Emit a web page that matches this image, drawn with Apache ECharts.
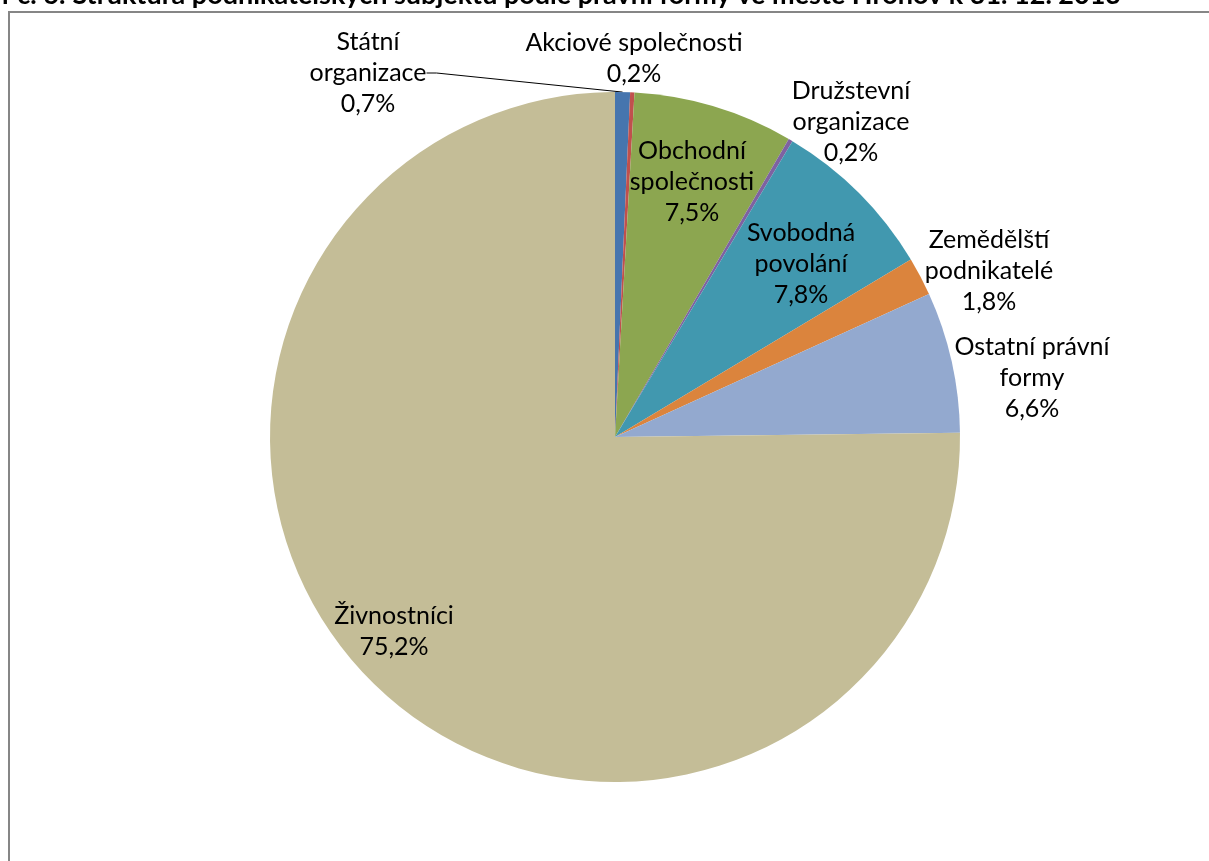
<!DOCTYPE html>
<html>
<head>
<meta charset="utf-8">
<style>
html,body{margin:0;padding:0;background:#fff;}
#chart{width:1209px;height:861px;}
</style>
<script src="https://cdn.jsdelivr.net/npm/echarts@6/dist/echarts.min.js"></script>
</head>
<body>
<div id="chart"></div>
<script>
// Data (clockwise from 12 o'clock)
var categories = ['Státní\norganizace', 'Akciové společnosti', 'Obchodní\nspolečnosti', 'Družstevní\norganizace', 'Svobodná\npovolání', 'Zemědělští\npodnikatelé', 'Ostatní právní\nformy', 'Živnostníci'];
var shares = [0.7, 0.2, 7.5, 0.2, 7.8, 1.8, 6.6, 75.2];
var colors = ['#4675AE', '#C0504D', '#8CA650', '#7E62A1', '#4198AF', '#DB843D', '#93A9CF', '#C4BD97'];
var titleText = 'Graf č. 6: Struktura podnikatelských subjektů podle právní formy ve městě Hronov k 31. 12. 2013';

// Label anchor layout (centre of each label block, px)
var labelAnchors = [[368, 73], [634, 58], [692, 182], [851, 122], [801, 264], [989, 271], [1032, 378], [394, 631]];

var FONT = 'Lato, "Open Sans", sans-serif';

var chart = echarts.init(document.getElementById('chart'), null, {renderer: 'canvas'});

var data = shares.map(function (v, i) {
  return {
    name: categories[i],
    value: v,
    itemStyle: {color: colors[i]},
    labelLine: {show: i === 0}
  };
});

var option = {
  animation: false,
  backgroundColor: '#ffffff',
  graphic: [
    {
      type: 'rect',
      shape: {x: 9, y: 12, width: 1400, height: 1000},
      style: {fill: 'none', stroke: '#868686', lineWidth: 2},
      silent: true
    },
    {
      type: 'text',
      x: 1121,
      y: 9,
      style: {
        text: titleText,
        fill: '#000',
        font: 'bold 27px ' + FONT,
        textAlign: 'right',
        textVerticalAlign: 'bottom'
      },
      silent: true
    }
  ],
  series: [{
    type: 'pie',
    center: [615, 437],
    radius: 345,
    startAngle: 90,
    clockwise: true,
    avoidLabelOverlap: false,
    itemStyle: {borderWidth: 0},
    label: {
      show: true,
      position: 'outside',
      formatter: function (p) {
        return p.name + '\n' + String(p.value.toFixed(1)).replace('.', ',') + '%';
      },
      color: '#000',
      fontFamily: FONT,
      fontSize: 25,
      lineHeight: 31,
      align: 'center'
    },
    labelLine: {
      show: false,
      length: 10,
      length2: 10,
      lineStyle: {color: '#000', width: 1}
    },
    labelLayout: function (params) {
      var a = labelAnchors[params.dataIndex];
      return {x: a[0], y: a[1], align: 'center', verticalAlign: 'middle'};
    },
    emphasis: {disabled: true},
    data: data
  }]
};

chart.setOption(option);
</script>
</body>
</html>
